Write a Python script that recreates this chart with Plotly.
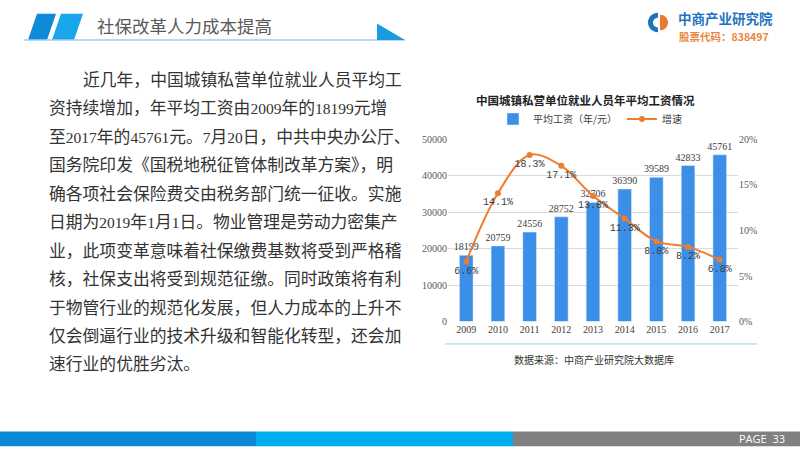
import re
import plotly.graph_objects as go

# ---------------- data ----------------
years = ["2009", "2010", "2011", "2012", "2013", "2014", "2015", "2016", "2017"]
wage = [18199, 20759, 24556, 28752, 32706, 36390, 39589, 42833, 45761]
growth = [6.6, 14.1, 18.3, 17.1, 13.8, 11.3, 8.8, 8.2, 6.8]
wage_name = "平均工资（年/元）"
growth_name = "增速"
chart_title = "中国城镇私营单位就业人员年平均工资情况"
slide_title = "社保改革人力成本提高"
source_text = "数据来源：中商产业研究院大数据库"
body_lines = [
    "近几年，中国城镇私营单位就业人员平均工",
    "资持续增加，年平均工资由2009年的18199元增",
    "至2017年的45761元。7月20日，中共中央办公厅、",
    "国务院印发《国税地税征管体制改革方案》，明",
    "确各项社会保险费交由税务部门统一征收。实施",
    "日期为2019年1月1日。物业管理是劳动力密集产",
    "业，此项变革意味着社保缴费基数将受到严格稽",
    "核，社保支出将受到规范征缴。同时政策将有利",
    "于物管行业的规范化发展，但人力成本的上升不",
    "仅会倒逼行业的技术升级和智能化转型，还会加",
    "速行业的优胜劣汰。",
]

W, H = 800, 461
CJK = "Noto Sans CJK SC"
BAR_C = "#3B8FE7"
LINE_C = "#ED7D31"

fig = go.Figure()

fig.add_trace(go.Bar(
    x=years, y=wage, name=wage_name, marker_color=BAR_C,
    text=[str(v) for v in wage], textposition="outside", constraintext="none",
    textfont=dict(size=10, color="#404040", family="Liberation Serif"),
    cliponaxis=False, yaxis="y",
))
fig.add_trace(go.Scatter(
    x=years, y=growth, name=growth_name, yaxis="y2",
    mode="lines+markers+text",
    line=dict(color=LINE_C, width=2, shape="spline", smoothing=1.0),
    marker=dict(color=LINE_C, size=6),
    text=[f"{v:.1f}%" for v in growth], textposition="bottom center",
    textfont=dict(size=10, color="#404040", family="Liberation Mono"),
    cliponaxis=False,
))
# dummy trace for a pixel-coordinate overlay axis pair
fig.add_trace(go.Scatter(x=[], y=[], xaxis="x3", yaxis="y3",
                         showlegend=False, hoverinfo="skip"))

def py(p):
    return 1 - p / H

fig.update_layout(
    width=W, height=H,
    margin=dict(l=0, r=0, t=0, b=0),
    paper_bgcolor="white", plot_bgcolor="rgba(0,0,0,0)",
    font=dict(family=CJK, color="#404040"),
    bargap=0.57,
    showlegend=True,
    legend=dict(orientation="h", x=590 / W, xanchor="center",
                y=py(116), yanchor="middle", font=dict(size=10, color="#404040"),
                bgcolor="rgba(0,0,0,0)", itemwidth=30, traceorder="normal"),
    xaxis=dict(domain=[448 / W, 738 / W], showgrid=False, showline=False,
               tickfont=dict(size=10, color="#404040", family="Liberation Serif"),
               ticks="", anchor="y"),
    yaxis=dict(domain=[py(324), py(137)], range=[0, 50000], dtick=10000,
               tickformat="d",
               showgrid=True, gridcolor="#D9D9D9", gridwidth=1, zeroline=False,
               showline=False, tickfont=dict(size=10, color="#595959", family="Liberation Serif"),
               anchor="x"),
    yaxis2=dict(overlaying="y", side="right", range=[0, 20], dtick=5,
                ticksuffix="%", showgrid=False, zeroline=False, showline=False,
                tickfont=dict(size=10, color="#595959", family="Liberation Serif"),
                anchor="x"),
    xaxis3=dict(domain=[0, 1], range=[0, W], visible=False, anchor="y3", fixedrange=True),
    yaxis3=dict(domain=[0, 1], range=[H, 0], visible=False, anchor="x3", fixedrange=True),
)

shapes = []
ann = []

# ---- header ----
shapes.append(dict(type="path", xref="x3", yref="y3",
                   path="M 37 8 L 56 8 L 47 35 L 28 35 Z",
                   fillcolor="#0E8AD8", line=dict(width=0)))
shapes.append(dict(type="path", xref="x3", yref="y3",
                   path="M 61 8 L 83 8 L 74 35 L 52 35 Z",
                   fillcolor="#18A6EC", line=dict(width=0)))
shapes.append(dict(type="line", xref="x3", yref="y3", x0=24, x1=405, y0=35, y1=35,
                   line=dict(color="#9FCDEB", width=1.5)))
shapes.append(dict(type="path", xref="x3", yref="y3",
                   path="M 377 18 L 377 35 L 405 35 Z",
                   fillcolor="#1A9BE0", line=dict(width=0)))
ann.append(dict(xref="x3", yref="y3", x=95, y=20, xanchor="left", yanchor="middle",
                text=slide_title, showarrow=False,
                font=dict(size=17.5, color="#595959", family=CJK)))

# ---- logo ----
shapes.append(dict(type="path", xref="x3", yref="y3",
                   path=("M 658 7 C 652.48 7 648 11.48 648 17 C 648 22.52 652.48 27 658 27 "
                         "L 658 22 C 655.24 22 653 19.76 653 17 C 653 14.24 655.24 12 658 12 Z"),
                   fillcolor="#1F73C1", line=dict(width=0)))
shapes.append(dict(type="path", xref="x3", yref="y3",
                   path="M 660 9 C 664.42 9 668 12.58 668 17 C 668 21.42 664.42 25 660 25 Z",
                   fillcolor="#E8792E", line=dict(width=0)))
ann.append(dict(xref="x3", yref="y3", x=676, y=12.5, xanchor="left", yanchor="middle",
                text="<b>中商产业研究院</b>", showarrow=False,
                font=dict(size=13.5, color="#1F73C1", family=CJK)))
ann.append(dict(xref="x3", yref="y3", x=677, y=31, xanchor="left", yanchor="middle",
                text="<b>股票代码：838497</b>", showarrow=False,
                font=dict(size=10.5, color="#E8873E", family=CJK)))

# ---- body text (digits in a serif face, like the original) ----
def fmt(line):
    return re.sub(r"(\d+)",
                  r'<span style="font-family:Liberation Serif;font-size:15.5px">\1</span>',
                  line)

for i, line in enumerate(body_lines):
    x0 = 81 if i == 0 else 47
    ann.append(dict(xref="x3", yref="y3", x=x0, y=75 + i * 29.2,
                    xanchor="left", yanchor="middle", text=fmt(line), showarrow=False,
                    font=dict(size=16.8, color="#333333", family=CJK)))

# ---- chart extras ----
ann.append(dict(xref="x3", yref="y3", x=585, y=96, xanchor="center", yanchor="middle",
                text="<b>" + chart_title + "</b>", showarrow=False,
                font=dict(size=11.5, color="#222222", family=CJK)))
shapes.append(dict(type="line", xref="x3", yref="y3", x0=445, x1=757, y0=347, y1=347,
                   line=dict(color="#A9C9E0", width=1)))
ann.append(dict(xref="x3", yref="y3", x=594, y=363, xanchor="center", yanchor="middle",
                text=source_text, showarrow=False,
                font=dict(size=10, color="#333333", family=CJK)))

# ---- footer ----
shapes.append(dict(type="rect", xref="x3", yref="y3", x0=0, x1=256, y0=437, y1=452,
                   fillcolor="#0B8AD5", line=dict(width=0)))
shapes.append(dict(type="rect", xref="x3", yref="y3", x0=256, x1=513, y0=437, y1=452,
                   fillcolor="#00AEEF", line=dict(width=0)))
shapes.append(dict(type="rect", xref="x3", yref="y3", x0=513, x1=800, y0=437, y1=452,
                   fillcolor="#808080", line=dict(width=0)))
ann.append(dict(xref="x3", yref="y3", x=787, y=444.5, xanchor="right", yanchor="middle",
                text="PAGE  33", showarrow=False,
                font=dict(size=11, color="white", family="Open Sans")))

fig.update_layout(shapes=shapes, annotations=ann)
fig.write_html(
    "out.html",
    config={"displayModeBar": False},
    post_script="document.body.style.margin='0';document.body.style.padding='0';"
                "document.documentElement.style.overflow='hidden';",
)
